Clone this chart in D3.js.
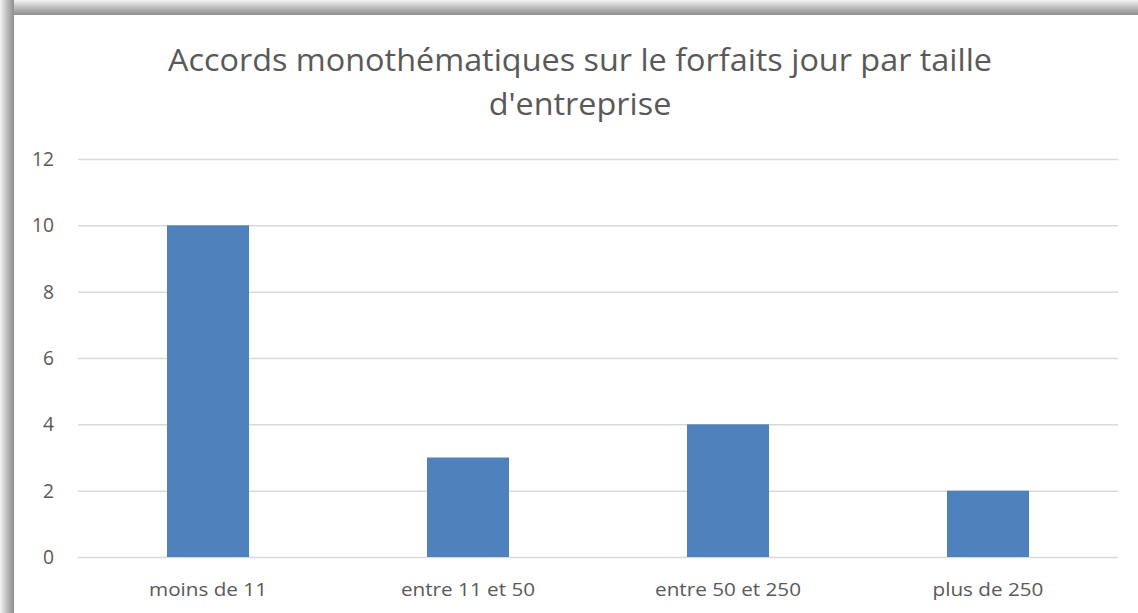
<!DOCTYPE html>
<html>
<head>
<meta charset="utf-8">
<script src="https://cdn.jsdelivr.net/npm/d3@7"></script>
<style>
  html, body { margin: 0; padding: 0; background: #fff; }
  svg { display: block; }
  text { font-family: "Open Sans", "Noto Sans", sans-serif; fill: #595959; }
</style>
</head>
<body>
<script>
const categories = ["moins de 11", "entre 11 et 50", "entre 50 et 250", "plus de 250"];
const values = [10, 3, 4, 2];
const yTicks = [0, 2, 4, 6, 8, 10, 12];
const titleLines = ["Accords monothématiques sur le forfaits jour par taille", "d'entreprise"];

(function () {
const W = 1138, H = 613;
const FONT = '"Open Sans", "Noto Sans", sans-serif';
const svg = d3.select("body").append("svg").attr("width", W).attr("height", H);

// frame shadow
const defs = svg.append("defs");
const gl = defs.append("linearGradient").attr("id", "gl").attr("x1", "0").attr("x2", "1").attr("y1", "0").attr("y2", "0");
gl.append("stop").attr("offset", "0").attr("stop-color", "#f4f4f4");
gl.append("stop").attr("offset", "0.5").attr("stop-color", "#bdbdbd");
gl.append("stop").attr("offset", "1").attr("stop-color", "#8f8f8f");
const gt = defs.append("linearGradient").attr("id", "gt").attr("x1", "0").attr("x2", "0").attr("y1", "0").attr("y2", "1");
gt.append("stop").attr("offset", "0").attr("stop-color", "#f4f4f4");
gt.append("stop").attr("offset", "0.5").attr("stop-color", "#bdbdbd");
gt.append("stop").attr("offset", "1").attr("stop-color", "#8f8f8f");
svg.append("rect").attr("x", 0).attr("y", 0).attr("width", W).attr("height", 15).attr("fill", "url(#gt)");
svg.append("rect").attr("x", 0).attr("y", 0).attr("width", 14).attr("height", H).attr("fill", "url(#gl)");
svg.append("rect").attr("x", 14).attr("y", 15).attr("width", W - 14).attr("height", H - 15).attr("fill", "#fff");

const pLeft = 78, pRight = 1118, pTop = 159, pBottom = 557;
const x = d3.scaleBand().domain(categories).range([pLeft, pRight]).paddingInner(0.6846).paddingOuter(0.3423);
const y = d3.scaleLinear().domain([0, 12]).range([pBottom, pTop]);

// horizontal ratio needed so that `str` at `size` spans `target` px
function ratioFor(str, size, target) {
  const p = svg.append("text").style("font-family", FONT).style("font-size", size + "px").text(str);
  const w = p.node().getComputedTextLength();
  p.remove();
  return target / w;
}
function squeeze(sel, size, ratio) {
  sel.style("font-family", FONT).style("font-size", size + "px");
  sel.each(function () {
    const w = this.getComputedTextLength();
    d3.select(this).attr("textLength", w * ratio).attr("lengthAdjust", "spacingAndGlyphs");
  });
}

// title
const TS = 31;
const tr = ratioFor(titleLines[0], TS, 824);
const title = svg.append("g").selectAll("text").data(titleLines).join("text")
  .attr("x", 580).attr("y", (d, i) => 71 + i * 44).attr("text-anchor", "middle").text(d => d);
squeeze(title, TS, tr);

// y axis + gridlines
const YS = 20;
const yr = ratioFor(String(yTicks[yTicks.length - 1]), YS, 22);
const yAxis = svg.append("g").attr("transform", `translate(${pLeft},0)`)
  .call(d3.axisLeft(y).tickValues(yTicks).tickSize(-(pRight - pLeft)).tickPadding(24));
yAxis.select(".domain").remove();
yAxis.selectAll(".tick line").attr("stroke", "#d9d9d9").attr("stroke-width", 1.5);
yAxis.selectAll(".tick text").attr("fill", "#595959");
squeeze(yAxis.selectAll(".tick text"), YS, yr);

// bars
svg.append("g").selectAll("rect").data(values).join("rect")
  .attr("x", (d, i) => x(categories[i]))
  .attr("width", x.bandwidth())
  .attr("y", d => y(d))
  .attr("height", d => y(0) - y(d))
  .attr("fill", "#4f81bd");

// x axis
const XS = 19;
const xr = ratioFor(categories[0], XS, 118);
const xAxis = svg.append("g").attr("transform", `translate(0,${pBottom})`)
  .call(d3.axisBottom(x).tickSize(0));
xAxis.select(".domain").remove();
xAxis.selectAll(".tick text").attr("y", 39).attr("dy", 0).attr("fill", "#595959");
squeeze(xAxis.selectAll(".tick text"), XS, xr);
})();
</script>
</body>
</html>
